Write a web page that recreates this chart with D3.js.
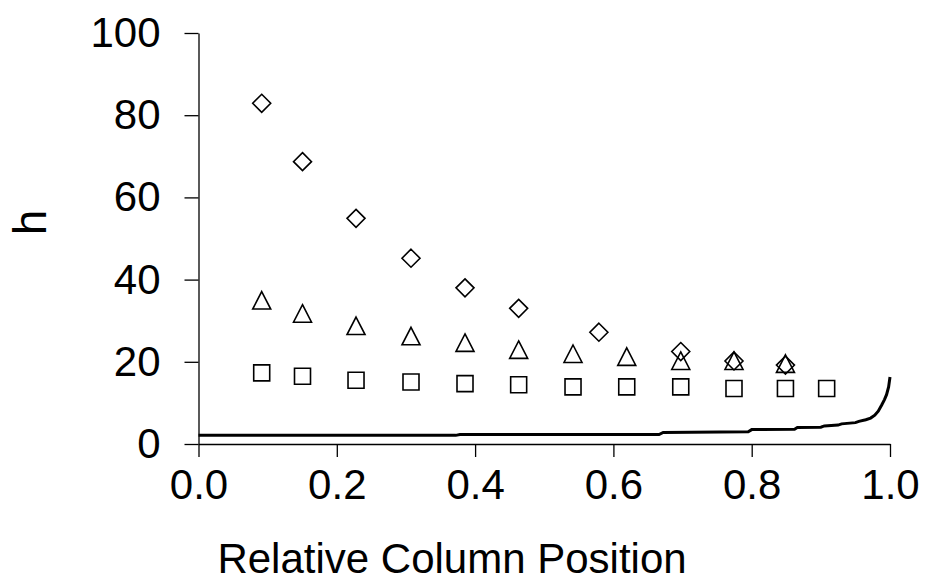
<!DOCTYPE html>
<html>
<head>
<meta charset="utf-8">
<style>
    body { margin: 0; background: #fff; }
    svg { display: block; }
    .axis text { font-family: "Liberation Sans", Arial, sans-serif; font-size: 42px; fill: #000; }
    .axis path, .axis line { stroke: #000; stroke-width: 1.3px; }
    .title { font-family: "Liberation Sans", Arial, sans-serif; fill: #000; }
    .marker { fill: none; stroke: #000; stroke-width: 1.6px; }
</style>
<script src="https://cdn.jsdelivr.net/npm/d3@7/dist/d3.min.js"></script>
</head>
<body>
<svg id="chart" width="927" height="587"></svg>
<script>
// squares
var sqX = [0.0914, 0.1504, 0.2278, 0.3073, 0.3854, 0.4630, 0.5416, 0.6193, 0.6974, 0.7744, 0.8488, 0.9084];
var sqY = [17.3, 16.5, 15.5, 15.1, 14.7, 14.4, 13.9, 13.9, 13.9, 13.5, 13.5, 13.5];
// triangles
var triX = [0.0914, 0.1504, 0.2278, 0.3073, 0.3854, 0.4630, 0.5416, 0.6193, 0.6974, 0.7744, 0.8488];
var triY = [34.9, 31.7, 28.7, 26.2, 24.6, 22.9, 21.9, 21.2, 20.2, 20.2, 19.5];
// diamonds
var diaX = [0.0914, 0.1504, 0.2278, 0.3073, 0.3854, 0.4630, 0.5790, 0.6974, 0.7744, 0.8488];
var diaY = [82.9, 68.7, 54.9, 45.2, 38.0, 33.0, 27.2, 22.5, 20.2, 19.2];
// solid curve
var curveX = [0, 0.372, 0.378, 0.666, 0.672, 0.795, 0.800, 0.862, 0.866, 0.900, 0.905, 0.925, 0.930, 0.950, 0.955, 0.965, 0.972, 0.978, 0.983, 0.988, 0.992, 0.995, 0.998, 1.0];
var curveY = [2.1, 2.1, 2.3, 2.3, 2.8, 3.0, 3.5, 3.6, 4.0, 4.1, 4.4, 4.6, 4.9, 5.2, 5.5, 5.9, 6.3, 7.0, 8.0, 9.5, 10.8, 12.0, 13.9, 16.3];

var xTicks = [0, 0.2, 0.4, 0.6, 0.8, 1.0];
var yTicks = [0, 20, 40, 60, 80, 100];

var svg = d3.select("#chart"),
    width = +svg.attr("width"),
    height = +svg.attr("height");
var margin = {top: 33, right: 37, bottom: 143, left: 198.5};

var x = d3.scaleLinear().domain([0, 1]).range([margin.left, width - margin.right]);
var y = d3.scaleLinear().domain([0, 100]).range([height - margin.bottom, margin.top]);

svg.append("g")
    .attr("class", "axis")
    .attr("transform", "translate(" + margin.left + ",0)")
    .call(d3.axisLeft(y).tickValues(yTicks).tickSize(14).tickSizeOuter(0).tickPadding(24).tickFormat(d3.format("d")));

svg.append("g")
    .attr("class", "axis")
    .attr("transform", "translate(0," + y(0) + ")")
    .call(d3.axisBottom(x).tickValues(xTicks).tickSize(13).tickSizeOuter(0).tickPadding(12).tickFormat(d3.format(".1f")));

// curve
var pts = curveX.map(function(d, i) { return [d, curveY[i]]; });
svg.append("path")
    .datum(pts)
    .attr("fill", "none")
    .attr("stroke", "#000")
    .attr("stroke-width", 3)
    .attr("d", d3.line().x(function(d) { return x(d[0]); }).y(function(d) { return y(d[1]); }));

function drawMarkers(xs, ys, shape) {
    svg.append("g").selectAll("path")
        .data(xs.map(function(d, i) { return [d, ys[i]]; }))
        .enter().append("path")
        .attr("class", "marker")
        .attr("transform", function(d) { return "translate(" + x(d[0]) + "," + y(d[1]) + ")"; })
        .attr("d", shape);
}
drawMarkers(sqX, sqY, "M-8,-8H8V8H-8Z");
drawMarkers(triX, triY, "M0,-9L9,8.5H-9Z");
drawMarkers(diaX, diaY, "M0,-9L9,0L0,9L-9,0Z");

svg.append("text")
    .attr("class", "title")
    .attr("x", 452)
    .attr("y", 573)
    .attr("text-anchor", "middle")
    .attr("font-size", 42)
    .text("Relative Column Position");

svg.append("text")
    .attr("class", "title")
    .attr("transform", "translate(46," + (y(50) - 16) + ") rotate(-90)")
    .attr("text-anchor", "middle")
    .attr("font-size", 46)
    .text("h");
</script>
</body>
</html>
